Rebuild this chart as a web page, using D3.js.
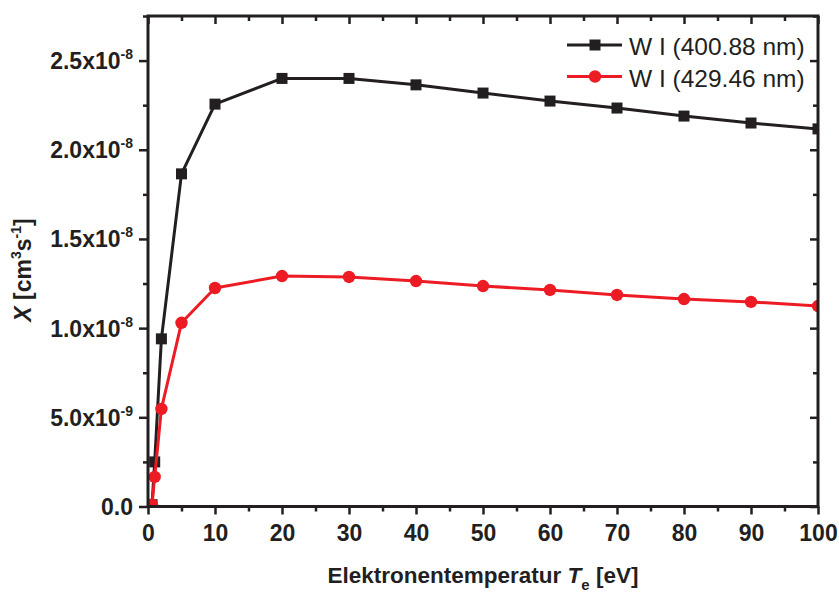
<!DOCTYPE html>
<html>
<head>
<meta charset="utf-8">
<script src="https://cdn.jsdelivr.net/npm/d3@7"></script>
<style>
  html, body { margin: 0; padding: 0; background: #fff; }
  svg { display: block; font-family: "Liberation Sans", Arial, Helvetica, sans-serif; }
</style>
</head>
<body>
<svg id="chart" width="839" height="592"></svg>
<script>
// Electron temperature in eV
const temperatures = [0.6, 1, 2, 5, 10, 20, 30, 40, 50, 60, 70, 80, 90, 100];
// Rate coefficient X [cm^3 s^-1], W I 400.88 nm line
const w400 = [0.01e-8, 0.25e-8, 0.94e-8, 1.865e-8, 2.256e-8, 2.40e-8, 2.40e-8, 2.364e-8, 2.318e-8, 2.273e-8, 2.234e-8, 2.189e-8, 2.150e-8, 2.117e-8];
// Rate coefficient X [cm^3 s^-1], W I 429.46 nm line
const w429 = [0.01e-8, 0.166e-8, 0.547e-8, 1.03e-8, 1.225e-8, 1.292e-8, 1.287e-8, 1.264e-8, 1.236e-8, 1.214e-8, 1.186e-8, 1.163e-8, 1.147e-8, 1.124e-8];
const seriesNames = ["W I (400.88 nm)", "W I (429.46 nm)"];

// Axis ticks: mantissa / exponent pairs for the y labels
const xTicks = [0, 10, 20, 30, 40, 50, 60, 70, 80, 90, 100];
const xMinorTicks = [5, 15, 25, 35, 45, 55, 65, 75, 85, 95];
const yTicks = [0, 0.5e-8, 1.0e-8, 1.5e-8, 2.0e-8, 2.5e-8];
const yMinorTicks = [0.25e-8, 0.75e-8, 1.25e-8, 1.75e-8, 2.25e-8, 2.75e-8];
const yTickMantissa = ["0.0", "5.0x10", "1.0x10", "1.5x10", "2.0x10", "2.5x10"];
const yTickExponent = ["", "-9", "-8", "-8", "-8", "-8"];

const ink = "#231f20";
const red = "#ed1c24";

const svg = d3.select("#chart");
const plot = { left: 148, right: 818, top: 16, bottom: 506.5 };

const x = d3.scaleLinear().domain([0, 100]).range([plot.left, plot.right]);
const y = d3.scaleLinear().domain([0, 2.75e-8]).range([plot.bottom, plot.top]);

svg.append("defs").append("clipPath").attr("id", "plotClip")
  .append("rect")
  .attr("x", plot.left).attr("y", plot.top)
  .attr("width", plot.right - plot.left).attr("height", plot.bottom - plot.top);

// Data series
const series = [
  { values: w400, color: ink, shape: "square" },
  { values: w429, color: red, shape: "circle" }
];

const dataLayer = svg.append("g").attr("clip-path", "url(#plotClip)");
const line = d3.line().x(d => x(d[0])).y(d => y(d[1]));

series.forEach(s => {
  const pts = temperatures.map((t, i) => [t, s.values[i]]);
  const g = dataLayer.append("g");
  g.append("path").datum(pts)
    .attr("d", line)
    .attr("fill", "none")
    .attr("stroke", s.color)
    .attr("stroke-width", 3)
    .attr("stroke-linejoin", "round");
  if (s.shape === "square") {
    g.selectAll("rect").data(pts).enter().append("rect")
      .attr("x", d => x(d[0]) - 5.5).attr("y", d => y(d[1]) - 5.5)
      .attr("width", 11).attr("height", 11)
      .attr("fill", s.color);
  } else {
    g.selectAll("circle").data(pts).enter().append("circle")
      .attr("cx", d => x(d[0])).attr("cy", d => y(d[1]))
      .attr("r", 6.2)
      .attr("fill", s.color);
  }
});

// Axes
function styleAxis(g) {
  g.select(".domain").remove();
  g.selectAll(".tick line").attr("stroke", ink).attr("stroke-width", 2.5);
}

const bottomY = plot.bottom;
svg.append("g").attr("transform", `translate(0,${bottomY})`)
  .call(d3.axisBottom(x).tickValues(xMinorTicks).tickSize(5).tickFormat(""))
  .call(styleAxis);
const xAxisG = svg.append("g").attr("transform", `translate(0,${bottomY})`)
  .call(d3.axisBottom(x).tickValues(xTicks).tickSize(8).tickPadding(10).tickFormat(d3.format("d")))
  .call(styleAxis);
xAxisG.selectAll(".tick text")
  .attr("fill", ink).attr("font-size", 23).attr("font-weight", "bold")
  .attr("font-family", "'Liberation Sans', Arial, sans-serif");

// Top mirror (ticks inward)
svg.append("g").attr("transform", `translate(0,${plot.top})`)
  .call(d3.axisTop(x).tickValues(xTicks).tickSize(-8).tickFormat(""))
  .call(styleAxis);
svg.append("g").attr("transform", `translate(0,${plot.top})`)
  .call(d3.axisTop(x).tickValues(xMinorTicks).tickSize(-5).tickFormat(""))
  .call(styleAxis);

// Left axis
svg.append("g").attr("transform", `translate(${plot.left},0)`)
  .call(d3.axisLeft(y).tickValues(yMinorTicks).tickSize(5).tickFormat(""))
  .call(styleAxis);
const yAxisG = svg.append("g").attr("transform", `translate(${plot.left},0)`)
  .call(d3.axisLeft(y).tickValues(yTicks).tickSize(9).tickFormat(""))
  .call(styleAxis);

yAxisG.selectAll(".tick").each(function(d, i) {
  const t = d3.select(this).append("text")
    .attr("x", -15).attr("y", 8)
    .attr("text-anchor", "end")
    .attr("fill", ink).attr("font-size", 23).attr("font-weight", "bold");
  t.append("tspan").text(yTickMantissa[i]);
  if (yTickExponent[i]) {
    t.append("tspan").attr("dy", -10).attr("font-size", 14).text(yTickExponent[i]);
  }
});

// Right mirror (ticks inward)
svg.append("g").attr("transform", `translate(${plot.right},0)`)
  .call(d3.axisRight(y).tickValues(yTicks).tickSize(-8).tickFormat(""))
  .call(styleAxis);
svg.append("g").attr("transform", `translate(${plot.right},0)`)
  .call(d3.axisRight(y).tickValues(yMinorTicks).tickSize(-5).tickFormat(""))
  .call(styleAxis);

// Frame
svg.append("rect")
  .attr("x", plot.left).attr("y", plot.top)
  .attr("width", plot.right - plot.left).attr("height", plot.bottom - plot.top)
  .attr("fill", "none").attr("stroke", ink).attr("stroke-width", 3);

// Axis titles
const xt = svg.append("text")
  .attr("x", (plot.left + plot.right) / 2).attr("y", 583)
  .attr("text-anchor", "middle")
  .attr("fill", ink).attr("font-size", 22.5).attr("font-weight", "bold");
xt.append("tspan").text("Elektronentemperatur ");
xt.append("tspan").attr("font-style", "italic").text("T");
xt.append("tspan").attr("font-size", 15).attr("dy", 7).text("e");
xt.append("tspan").attr("dy", -7).text(" [eV]");

const yt = svg.append("text")
  .attr("transform", `translate(31,270) rotate(-90)`)
  .attr("text-anchor", "middle")
  .attr("fill", ink).attr("font-size", 23).attr("font-weight", "bold");
yt.append("tspan").attr("font-style", "italic").text("X");
yt.append("tspan").text(" [cm");
yt.append("tspan").attr("font-size", 14).attr("dy", -10).text("3");
yt.append("tspan").attr("dy", 10).text("s");
yt.append("tspan").attr("font-size", 14).attr("dy", -10).text("-1");
yt.append("tspan").attr("dy", 10).text("]");

// Legend
const legend = svg.append("g");
series.forEach((s, i) => {
  const ly = 45 + i * 31.5;
  const g = legend.append("g");
  g.append("line")
    .attr("x1", 567).attr("x2", 622).attr("y1", ly).attr("y2", ly)
    .attr("stroke", s.color).attr("stroke-width", 3);
  if (s.shape === "square") {
    g.append("rect").attr("x", 595 - 5.5).attr("y", ly - 5.5)
      .attr("width", 11).attr("height", 11).attr("fill", s.color);
  } else {
    g.append("circle").attr("cx", 595).attr("cy", ly).attr("r", 6.2).attr("fill", s.color);
  }
  g.append("text")
    .attr("x", 629).attr("y", ly + 10)
    .attr("fill", ink).attr("font-size", 24.5)
    .text(seriesNames[i]);
});
</script>
</body>
</html>
